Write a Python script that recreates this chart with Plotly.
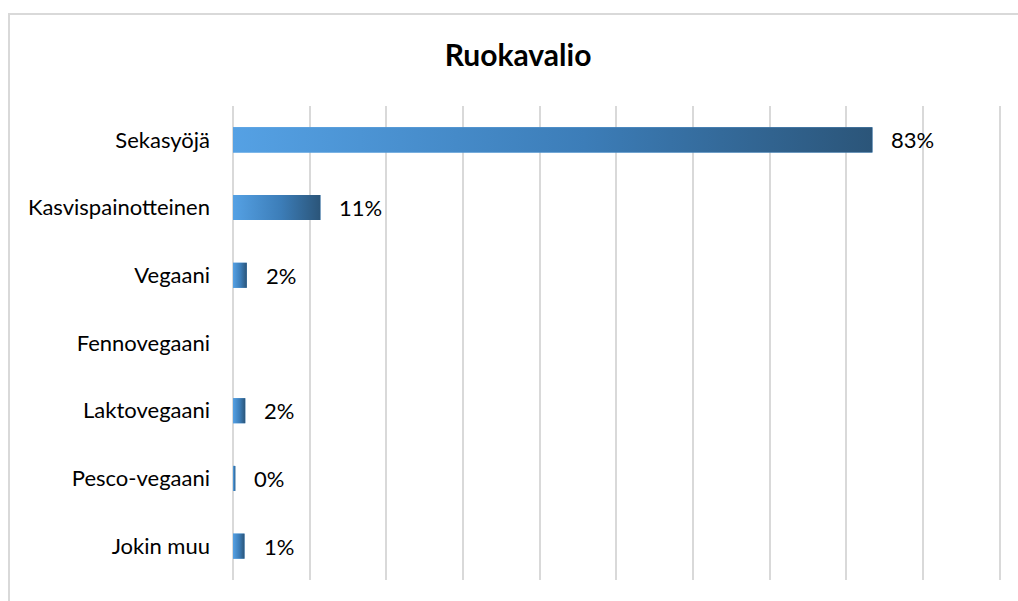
import plotly.graph_objects as go

categories = ["Sekasyöjä", "Kasvispainotteinen", "Vegaani", "Fennovegaani",
              "Laktovegaani", "Pesco-vegaani", "Jokin muu"]
values = [83.4, 11.4, 1.8, None, 1.6, 0.3, 1.5]
labels = ["83%", "11%", "2%", "", "2%", "0%", "1%"]
title_text = "Ruokavalio"
x_ticks = list(range(0, 101, 10))

FONT = "Lato, Carlito, 'Liberation Sans', sans-serif"
LIGHT = "#55A1E4"
DARK = "#2B5579"
GRID = "#D9D9D9"
BAR_W = 0.37
X_MAX = 100.3

pos = list(range(len(categories)))

fig = go.Figure()

# base bars (data through the library's axes)
fig.add_trace(go.Bar(
    x=[v if v is not None else 0 for v in values],
    y=pos,
    orientation="h",
    width=BAR_W,
    marker=dict(color=LIGHT, line=dict(width=0)),
    hoverinfo="skip",
    showlegend=False,
))

# gradient overlay for each bar, built from the same values
for i, v in zip(pos, values):
    if not v:
        continue
    fig.add_trace(go.Scatter(
        x=[0, v, v, 0, 0],
        y=[i - BAR_W / 2, i - BAR_W / 2, i + BAR_W / 2, i + BAR_W / 2, i - BAR_W / 2],
        mode="lines",
        line=dict(width=0),
        fill="toself",
        fillcolor=LIGHT,
        fillgradient=dict(type="horizontal", colorscale=[[0, LIGHT], [0.55, "#3C7DB8"], [1, DARK]]),
        hoverinfo="skip",
        showlegend=False,
    ))

for i, v, t in zip(pos, values, labels):
    if v is None or not t:
        continue
    fig.add_annotation(x=v, y=i, text=t, showarrow=False, xanchor="left",
                       yanchor="middle", xshift=17,
                       font=dict(family=FONT, size=22, color="#000000"))

W, H = 1018, 601
L, R, T, B = 233, 16, 106, 21
pw, ph = W - L - R, H - T - B

fig.add_shape(type="rect", xref="paper", yref="paper",
              x0=(9 - L) / pw, x1=(W + 4 - L) / pw,
              y0=(H - B - (H + 4)) / ph, y1=1 + (T - 14) / ph,
              line=dict(color=GRID, width=2), fillcolor="rgba(0,0,0,0)",
              layer="below")

fig.update_layout(
    width=W, height=H,
    margin=dict(l=L, r=R, t=T, b=B, pad=0),
    paper_bgcolor="white", plot_bgcolor="white",
    title=dict(text=f"<b>{title_text}</b>", xref="container", yref="container",
               x=518 / W, y=1 - 55 / H, xanchor="center", yanchor="middle",
               font=dict(family=FONT, size=30, color="#000000")),
    showlegend=False,
    hovermode=False,
    barmode="overlay",
    font=dict(family=FONT, size=22, color="#000000"),
)
fig.update_xaxes(range=[0, X_MAX], tickvals=x_ticks, showticklabels=False,
                 showgrid=True, gridcolor=GRID, gridwidth=1.5,
                 zeroline=True, zerolinecolor=GRID, zerolinewidth=1.5,
                 showline=False, ticks="", fixedrange=True)
fig.update_yaxes(range=[len(categories) - 0.5, -0.5], tickvals=pos, ticktext=categories,
                 showgrid=False, zeroline=False, showline=False, ticks="",
                 ticklabelstandoff=22, tickfont=dict(family=FONT, size=22, color="#000000"),
                 fixedrange=True)

fig.write_html("out.html")
